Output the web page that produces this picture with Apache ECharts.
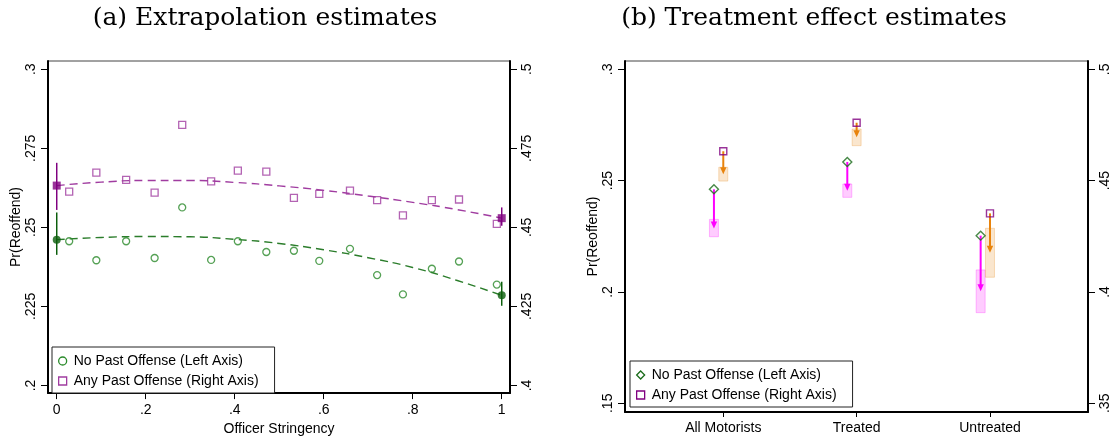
<!DOCTYPE html>
<html>
<head>
<meta charset="utf-8">
<title>Reoffense estimates</title>
<script src="https://cdn.jsdelivr.net/npm/echarts@6/dist/echarts.min.js"></script>
<style>
  html, body { margin: 0; padding: 0; background: #fff; }
  #chart { width: 1114px; height: 441px; }
</style>
</head>
<body>
<div id="chart"></div>
<script>
// ---- Panel (a): binned reoffense rates by officer stringency ----
const binX = [0.028, 0.089, 0.156, 0.220, 0.282, 0.347, 0.407, 0.471, 0.533, 0.590, 0.659, 0.720, 0.778, 0.843, 0.904, 0.989];
const noPastBins = [0.2456, 0.2396, 0.2456, 0.2403, 0.2563, 0.2397, 0.2456, 0.2422, 0.2426, 0.2394, 0.2432, 0.2349, 0.2288, 0.2369, 0.2392, 0.2319];
const anyPastBins = [0.4613, 0.4673, 0.4650, 0.4610, 0.4824, 0.4645, 0.4679, 0.4676, 0.4593, 0.4606, 0.4616, 0.4586, 0.4538, 0.4586, 0.4588, 0.4511];

// Quadratic fit
const fitX = [0, 0.1, 0.2, 0.3, 0.4, 0.5, 0.6, 0.7, 0.8, 0.9, 1];
const noPastFit = [0.2461, 0.2468, 0.2471, 0.2470, 0.2462, 0.2449, 0.2429, 0.2404, 0.2373, 0.2332, 0.2285];
const anyPastFit = [0.4632, 0.4643, 0.4648, 0.4648, 0.4642, 0.4631, 0.4617, 0.4599, 0.4579, 0.4556, 0.4529];

// Extrapolated endpoints with confidence intervals
const endX = [0, 1];
const noPastEnd = [0.2461, 0.2285];
const noPastEndLo = [0.2413, 0.2252];
const noPastEndHi = [0.2547, 0.2328];
const anyPastEnd = [0.4632, 0.4529];
const anyPastEndLo = [0.4555, 0.4505];
const anyPastEndHi = [0.4704, 0.4563];

const stringencyTicks = [0, 0.2, 0.4, 0.6, 0.8, 1];
const leftTicksA = [0.2, 0.225, 0.25, 0.275, 0.3];
const rightTicksA = [0.4, 0.425, 0.45, 0.475, 0.5];

// ---- Panel (b): treatment effects by group ----
const groups = ['All Motorists', 'Treated', 'Untreated'];
const groupPos = [1, 2, 3];
const noPastBase = [0.2461, 0.2584, 0.2253];
const noPastEffect = [0.2285, 0.2455, 0.2003];
const noPastEffectLo = [0.2248, 0.2425, 0.1907];
const noPastEffectHi = [0.2326, 0.2485, 0.2099];
const anyPastBase = [0.4632, 0.4760, 0.4353];
const anyPastEffect = [0.4529, 0.4695, 0.4176];
const anyPastEffectLo = [0.4498, 0.4657, 0.4066];
const anyPastEffectHi = [0.4560, 0.4732, 0.4286];

const leftTicksB = [0.15, 0.2, 0.25, 0.3];
const rightTicksB = [0.35, 0.4, 0.45, 0.5];

const NAME_NO = 'No Past Offense (Left Axis)';
const NAME_ANY = 'Any Past Offense (Right Axis)';

const SANS = 'Liberation Sans, Arial, Helvetica, sans-serif';
const GREEN = '#2a8a2a';
const GREEN_LINE = '#2b7d2b';
const GREEN_DARK = '#0b5e0b';
const PURPLE = '#a03ca0';
const PURPLE_DARK = '#800080';
const MAGENTA = '#ff00ff';
const ORANGE = '#e8830c';

const fmt = v => String(+(+v).toFixed(3)).replace(/^0\./, '.');
const zip = (a, b) => a.map((v, i) => [v, b[i]]);

function yAxisCommon(min, max, ticks, pos, gridIndex, extra) {
  return Object.assign({
    type: 'value', gridIndex, position: pos, min, max,
    splitLine: { show: false },
    axisLine: { show: true, onZero: false, lineStyle: { color: '#000', width: 2 } },
    axisTick: { show: true, length: 7, customValues: ticks, lineStyle: { color: '#000', width: 1 } },
    axisLabel: {
      customValues: ticks, rotate: 90, margin: 10,
      formatter: fmt, color: '#000', fontSize: 14, fontFamily: SANS
    }
  }, extra || {});
}

// Vertical confidence segment
function ciSegment(color, width) {
  return function (params, api) {
    const x = api.value(0);
    const a = api.coord([x, api.value(1)]);
    const b = api.coord([x, api.value(2)]);
    return {
      type: 'line',
      shape: { x1: a[0], y1: a[1], x2: b[0], y2: b[1] },
      style: { stroke: color, lineWidth: width }
    };
  };
}

// Shaded confidence box around an effect estimate
function ciBox(fill, stroke) {
  return function (params, api) {
    const x = api.value(0);
    const a = api.coord([x, api.value(2)]);
    const b = api.coord([x, api.value(1)]);
    const w = 9;
    return {
      type: 'rect',
      shape: { x: a[0] - w / 2, y: a[1], width: w, height: b[1] - a[1] },
      style: { fill, stroke, lineWidth: 1 }
    };
  };
}

// Arrow from baseline estimate to treated estimate
function arrow(color) {
  return function (params, api) {
    const x = api.value(0);
    const a = api.coord([x, api.value(1)]);
    const b = api.coord([x, api.value(2)]);
    const head = 7, half = 3.2;
    return {
      type: 'group',
      children: [
        { type: 'line', shape: { x1: a[0], y1: a[1], x2: b[0], y2: b[1] - head + 1 },
          style: { stroke: color, lineWidth: 2 } },
        { type: 'polygon', shape: { points: [[b[0] - half, b[1] - head], [b[0] + half, b[1] - head], [b[0], b[1]]] },
          style: { fill: color } }
      ]
    };
  };
}

const OFFSET = -0.07;

const option = {
  animation: false,
  backgroundColor: '#fff',
  textStyle: { fontFamily: SANS },
  grid: [
    { left: 48, top: 61, width: 462, height: 336, show: true, borderColor: '#444', borderWidth: 1, backgroundColor: 'transparent' },
    { left: 625, top: 61, width: 463, height: 351, show: true, borderColor: '#444', borderWidth: 1, backgroundColor: 'transparent' }
  ],
  graphic: [
    { type: 'text', x: 265, y: 18, style: { text: '(a) Extrapolation estimates', textAlign: 'center', textVerticalAlign: 'middle', font: '25px "DejaVu Serif", serif', fill: '#000' } },
    { type: 'text', x: 814, y: 18, style: { text: '(b) Treatment effect estimates', textAlign: 'center', textVerticalAlign: 'middle', font: '25px "DejaVu Serif", serif', fill: '#000' } }
  ],
  legend: [
    {
      left: 52, top: 347, orient: 'vertical', itemWidth: 8, itemHeight: 8, itemGap: 6,
      padding: [7, 16, 5, 6], borderColor: '#222', borderWidth: 1, backgroundColor: '#fff',
      textStyle: { fontSize: 14, fontFamily: SANS, color: '#000', lineHeight: 14, padding: [0, 0, 0, 2] },
      selectedMode: false,
      data: [
        { name: NAME_NO, icon: 'circle', itemStyle: { color: 'rgba(0,0,0,0)', borderColor: GREEN, borderWidth: 1.3 } },
        { name: NAME_ANY, icon: 'rect', itemStyle: { color: 'rgba(0,0,0,0)', borderColor: PURPLE, borderWidth: 1.3 } }
      ]
    },
    {
      left: 630, top: 361, orient: 'vertical', itemWidth: 8, itemHeight: 8, itemGap: 6,
      padding: [7, 16, 5, 6], borderColor: '#222', borderWidth: 1, backgroundColor: '#fff',
      textStyle: { fontSize: 14, fontFamily: SANS, color: '#000', lineHeight: 14, padding: [0, 0, 0, 2] },
      selectedMode: false,
      data: [
        { name: NAME_NO, icon: 'diamond', itemStyle: { color: 'rgba(0,0,0,0)', borderColor: '#1a6b1a', borderWidth: 1.3 } },
        { name: NAME_ANY, icon: 'rect', itemStyle: { color: 'rgba(0,0,0,0)', borderColor: PURPLE_DARK, borderWidth: 1.3 } }
      ]
    }
  ],
  xAxis: [
    {
      type: 'value', gridIndex: 0, min: -0.0196, max: 1.0186,
      name: 'Officer Stringency', nameLocation: 'middle', nameGap: 24,
      nameTextStyle: { fontSize: 14, fontFamily: SANS, color: '#000' },
      splitLine: { show: false },
      axisLine: { show: true, onZero: false, lineStyle: { color: '#000', width: 2 } },
      axisTick: { show: true, length: 6, customValues: stringencyTicks, lineStyle: { color: '#000' } },
      axisLabel: { customValues: stringencyTicks, formatter: fmt, margin: 10, fontSize: 14, fontFamily: SANS, color: '#000' }
    },
    {
      type: 'value', gridIndex: 1, min: 0.263, max: 3.735,
      splitLine: { show: false },
      axisLine: { show: true, onZero: false, lineStyle: { color: '#000', width: 2 } },
      axisTick: { show: true, length: 5, customValues: groupPos, lineStyle: { color: '#000' } },
      axisLabel: { customValues: groupPos, formatter: v => groups[Math.round(v) - 1], margin: 9, fontSize: 14, fontFamily: SANS, color: '#000' }
    }
  ],
  yAxis: [
    yAxisCommon(0.19759, 0.30259, leftTicksA, 'left', 0, {
      name: 'Pr(Reoffend)', nameLocation: 'middle', nameGap: 25,
      nameTextStyle: { fontSize: 14, fontFamily: SANS, color: '#000' }
    }),
    yAxisCommon(0.39759, 0.50259, rightTicksA, 'right', 0),
    yAxisCommon(0.14609, 0.30373, leftTicksB, 'left', 1, {
      name: 'Pr(Reoffend)', nameLocation: 'middle', nameGap: 23,
      nameTextStyle: { fontSize: 14, fontFamily: SANS, color: '#000' }
    }),
    yAxisCommon(0.34609, 0.50373, rightTicksB, 'right', 1)
  ],
  series: [
    // ---------- panel (a) ----------
    {
      name: NAME_NO, type: 'line', xAxisIndex: 0, yAxisIndex: 0, smooth: true, showSymbol: false, z: 2,
      data: zip(fitX, noPastFit), lineStyle: { color: GREEN_LINE, width: 1.4, type: [8, 5] }, itemStyle: { color: GREEN_LINE },
      emphasis: { disabled: true }
    },
    {
      name: NAME_ANY, type: 'line', xAxisIndex: 0, yAxisIndex: 1, smooth: true, showSymbol: false, z: 2,
      data: zip(fitX, anyPastFit), lineStyle: { color: PURPLE, width: 1.4, type: [8, 5] }, itemStyle: { color: PURPLE },
      emphasis: { disabled: true }
    },
    {
      name: NAME_NO, type: 'scatter', xAxisIndex: 0, yAxisIndex: 0, symbol: 'circle', symbolSize: 7, z: 3,
      data: zip(binX, noPastBins), itemStyle: { color: 'rgba(0,0,0,0)', borderColor: GREEN, borderWidth: 1.3 }
    },
    {
      name: NAME_ANY, type: 'scatter', xAxisIndex: 0, yAxisIndex: 1, symbol: 'rect', symbolSize: 7, z: 3,
      data: zip(binX, anyPastBins), itemStyle: { color: 'rgba(0,0,0,0)', borderColor: PURPLE, borderWidth: 1.3 }
    },
    {
      type: 'custom', xAxisIndex: 0, yAxisIndex: 0, z: 4, renderItem: ciSegment(GREEN_DARK, 1.5),
      data: endX.map((x, i) => [x, noPastEndLo[i], noPastEndHi[i]])
    },
    {
      type: 'custom', xAxisIndex: 0, yAxisIndex: 1, z: 4, renderItem: ciSegment(PURPLE_DARK, 1.5),
      data: endX.map((x, i) => [x, anyPastEndLo[i], anyPastEndHi[i]])
    },
    {
      type: 'scatter', xAxisIndex: 0, yAxisIndex: 0, symbol: 'circle', symbolSize: 8, z: 5,
      data: zip(endX, noPastEnd), itemStyle: { color: GREEN_DARK }
    },
    {
      type: 'scatter', xAxisIndex: 0, yAxisIndex: 1, symbol: 'rect', symbolSize: 8, z: 5,
      data: zip(endX, anyPastEnd), itemStyle: { color: PURPLE_DARK }
    },
    // ---------- panel (b) ----------
    {
      type: 'custom', xAxisIndex: 1, yAxisIndex: 2, z: 1, renderItem: ciBox('rgba(255,0,255,0.2)', 'rgba(255,0,255,0.25)'),
      data: groupPos.map((x, i) => [x + OFFSET, noPastEffectLo[i], noPastEffectHi[i]])
    },
    {
      type: 'custom', xAxisIndex: 1, yAxisIndex: 3, z: 1, renderItem: ciBox('rgba(232,131,12,0.2)', 'rgba(232,131,12,0.25)'),
      data: groupPos.map((x, i) => [x, anyPastEffectLo[i], anyPastEffectHi[i]])
    },
    {
      type: 'custom', xAxisIndex: 1, yAxisIndex: 2, z: 2, renderItem: arrow(MAGENTA),
      data: groupPos.map((x, i) => [x + OFFSET, noPastBase[i], noPastEffect[i]])
    },
    {
      type: 'custom', xAxisIndex: 1, yAxisIndex: 3, z: 2, renderItem: arrow(ORANGE),
      data: groupPos.map((x, i) => [x, anyPastBase[i], anyPastEffect[i]])
    },
    {
      name: NAME_NO, type: 'scatter', xAxisIndex: 1, yAxisIndex: 2, symbol: 'diamond', symbolSize: 9, z: 3,
      data: groupPos.map((x, i) => [x + OFFSET, noPastBase[i]]),
      itemStyle: { color: 'rgba(0,0,0,0)', borderColor: '#1a6b1a', borderWidth: 1.4 }
    },
    {
      name: NAME_ANY, type: 'scatter', xAxisIndex: 1, yAxisIndex: 3, symbol: 'rect', symbolSize: 7, z: 3,
      data: groupPos.map((x, i) => [x, anyPastBase[i]]),
      itemStyle: { color: 'rgba(0,0,0,0)', borderColor: PURPLE_DARK, borderWidth: 1.4 }
    }
  ]
};

const chart = echarts.init(document.getElementById('chart'), null, { renderer: 'canvas' });
chart.setOption(option);
</script>
</body>
</html>
